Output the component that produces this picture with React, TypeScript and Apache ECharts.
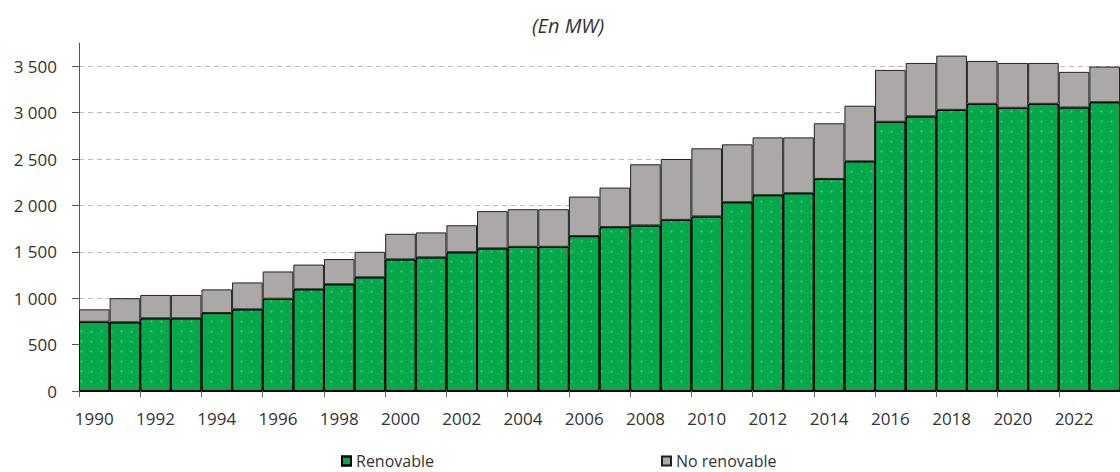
import React, { useEffect, useRef } from "react";
import * as echarts from "echarts";

const years: string[] = [
  "1990", "1991", "1992", "1993", "1994", "1995", "1996", "1997", "1998", "1999",
  "2000", "2001", "2002", "2003", "2004", "2005", "2006", "2007", "2008", "2009",
  "2010", "2011", "2012", "2013", "2014", "2015", "2016", "2017", "2018", "2019",
  "2020", "2021", "2022", "2023",
];

const renewable: number[] = [
  746, 740, 783, 783, 840, 880, 994, 1096, 1150, 1225,
  1418, 1440, 1495, 1537, 1554, 1554, 1669, 1766, 1784, 1844,
  1881, 2034, 2110, 2131, 2285, 2475, 2901, 2959, 3030, 3095,
  3052, 3095, 3055, 3112,
];

const nonRenewable: number[] = [
  134, 260, 252, 252, 255, 290, 294, 266, 272, 275,
  276, 269, 291, 401, 405, 405, 426, 426, 659, 656,
  734, 624, 623, 602, 600, 599, 559, 576, 584, 462,
  483, 440, 384, 384,
];

const yTicks: number[] = [0, 500, 1000, 1500, 2000, 2500, 3000, 3500];

const seriesNames = ["Renovable", "No renovable"];
const unitTitle = "(En MW)";

const FONT = "Open Sans";

function fmt(v: number): string {
  const s = String(Math.round(v));
  return s.replace(/\B(?=(\d{3})+(?!\d))/g, " ");
}

export default function App() {
  const ref = useRef<HTMLDivElement>(null);

  useEffect(() => {
    document.body.style.margin = "0";
    if (!ref.current) return;
    const chart = echarts.init(ref.current, null, { renderer: "svg" });
    const legendBase = {
      top: 453,
      padding: 0,
      itemWidth: 9,
      itemHeight: 9,
      icon: "rect",
      textStyle: { fontFamily: FONT, fontSize: 16, lineHeight: 16, color: "#333333" },
    };
    chart.setOption({
      animation: false,
      backgroundColor: "#ffffff",
      textStyle: { fontFamily: FONT },
      grid: { left: 79, right: -6, top: 43, bottom: 81, containLabel: false },
      graphic: [
        {
          type: "text",
          x: 568,
          y: 25,
          style: {
            text: unitTitle,
            fontFamily: FONT,
            fontStyle: "italic",
            fontSize: 20,
            fill: "#333333",
            textAlign: "center",
            textVerticalAlign: "middle",
          },
        },
      ],
      legend: [
        { ...legendBase, data: [seriesNames[0]], left: 341 },
        { ...legendBase, data: [seriesNames[1]], left: 661 },
      ],
      xAxis: {
        type: "category",
        data: years,
        boundaryGap: true,
        axisLine: { lineStyle: { color: "#000000", width: 1 } },
        axisTick: { show: true, length: 6, lineStyle: { color: "#666666" } },
        axisLabel: {
          interval: 1,
          fontFamily: FONT,
          fontSize: 17,
          color: "#333333",
          margin: 19,
        },
        splitLine: { show: false },
      },
      yAxis: {
        type: "value",
        min: 0,
        max: 3750,
        interval: 500,
        axisLine: { show: true, lineStyle: { color: "#555555", width: 1 } },
        axisTick: {
          show: true,
          length: 7,
          lineStyle: { color: "#555555" },
          customValues: yTicks,
        },
        axisLabel: {
          fontFamily: FONT,
          fontSize: 17,
          color: "#333333",
          margin: 22,
          customValues: yTicks,
          formatter: (v: number) => fmt(v),
        },
        splitLine: {
          show: true,
          showMinLine: false,
          showMaxLine: true,
          lineStyle: { color: "#bbbbbb", type: [5, 4], width: 1 },
        },
      },
      series: [
        {
          name: seriesNames[0],
          type: "bar",
          stack: "total",
          data: renewable,
          barCategoryGap: 0,
          itemStyle: {
            color: "#07a84c",
            borderColor: "#000000",
            borderWidth: 1,
            decal: {
              symbol: "circle",
              symbolSize: 0.6,
              color: "rgba(150,235,150,0.5)",
              dashArrayX: [3, 7],
              dashArrayY: [3, 7],
              rotation: 0,
            },
          },
        },
        {
          name: seriesNames[1],
          type: "bar",
          stack: "total",
          data: nonRenewable,
          barCategoryGap: 0,
          itemStyle: {
            color: "#aca8a7",
            borderColor: "#222222",
            borderWidth: 1,
          },
        },
      ],
    });
    return () => chart.dispose();
  }, []);

  return <div ref={ref} style={{ width: 1120, height: 472 }} />;
}
